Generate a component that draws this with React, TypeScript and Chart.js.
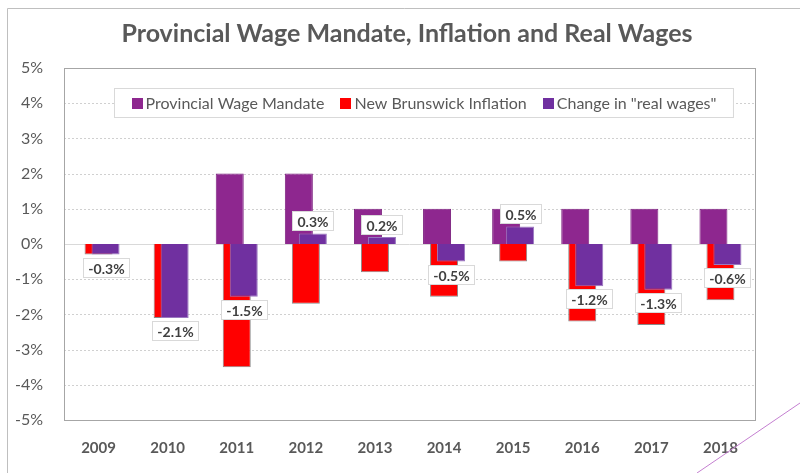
import React, { useEffect, useRef } from 'react';
import { Chart, registerables } from 'chart.js';

Chart.register(...registerables);

const years = ['2009', '2010', '2011', '2012', '2013', '2014', '2015', '2016', '2017', '2018'];
const wageMandate = [0, 0, 2, 2, 1, 1, 1, 1, 1, 1];
const inflation = [-0.3, -2.1, -3.5, -1.7, -0.8, -1.5, -0.5, -2.2, -2.3, -1.6];
const realWages = [-0.3, -2.1, -1.5, 0.3, 0.2, -0.5, 0.5, -1.2, -1.3, -0.6];
const seriesNames = ['Provincial Wage Mandate', 'New Brunswick Inflation', 'Change in "real wages"'];
const yTicks = [-5, -4, -3, -2, -1, 0, 1, 2, 3, 4, 5];
const chartTitle = 'Provincial Wage Mandate, Inflation and Real Wages';

const COLORS = ['#8E278F', '#FF0000', '#7030A0'];
const BORDERS = ['#7d2380', '#8a8a8a', '#9a78c0'];
const FONT = 'Lato, "Open Sans", sans-serif';
const TEXT = '#595959';

const customPlugin = {
  id: 'customDraw',
  beforeDatasetsDraw(chart: any) {
    const { ctx, chartArea: a, scales } = chart;
    const y = scales.y;
    ctx.save();
    ctx.lineWidth = 1;
    yTicks.forEach((v) => {
      const py = Math.round(y.getPixelForValue(v)) + 0.5;
      ctx.beginPath();
      if (v === 0) {
        ctx.setLineDash([]);
        ctx.strokeStyle = '#d9d9d9';
      } else {
        ctx.setLineDash([2, 2]);
        ctx.strokeStyle = '#d0d0d0';
      }
      ctx.moveTo(a.left, py);
      ctx.lineTo(a.right, py);
      ctx.stroke();
    });
    ctx.restore();
    // draw datasets so that the later ones lie on top
    for (let i = 0; i < chart.data.datasets.length; i++) {
      const meta = chart.getDatasetMeta(i);
      if (!meta.hidden) {
        ctx.save();
        meta.controller.draw();
        ctx.restore();
      }
    }
    return false;
  },
  afterDraw(chart: any) {
    const { ctx, chartArea: a } = chart;
    ctx.save();
    // plot border
    ctx.strokeStyle = '#a6a6a6';
    ctx.lineWidth = 1;
    ctx.setLineDash([]);
    ctx.strokeRect(Math.round(a.left) + 0.5, Math.round(a.top) + 0.5, Math.round(a.right - a.left), Math.round(a.bottom - a.top));

    // outer frame
    ctx.strokeStyle = '#bfbfbf';
    ctx.beginPath();
    ctx.moveTo(7.5, 480);
    ctx.lineTo(7.5, 8.5);
    ctx.lineTo(805, 8.5);
    ctx.stroke();

    // title
    ctx.fillStyle = TEXT;
    ctx.font = `bold 25px ${FONT}`;
    ctx.textAlign = 'center';
    ctx.textBaseline = 'middle';
    ctx.fillText(chartTitle, 407, 34);

    // legend
    ctx.font = `16px ${FONT}`;
    const sq = 11;
    const gapSq = 3;
    const gapItem = 16;
    const widths = seriesNames.map((n) => ctx.measureText(n).width);
    const content = widths.reduce((s, w) => s + sq + gapSq + w, 0) + gapItem * (seriesNames.length - 1);
    const padX = 17;
    const boxW = content + padX * 2;
    const boxCx = 423.5;
    const boxL = Math.round(boxCx - boxW / 2) + 0.5;
    const boxT = 88.5;
    const boxH = 29;
    ctx.fillStyle = '#ffffff';
    ctx.fillRect(boxL, boxT, boxW, boxH);
    ctx.strokeStyle = '#d9d9d9';
    ctx.strokeRect(boxL, boxT, boxW, boxH);
    let x = boxL + padX;
    const cy = boxT + boxH / 2;
    ctx.textAlign = 'left';
    ctx.textBaseline = 'middle';
    seriesNames.forEach((n, i) => {
      ctx.fillStyle = COLORS[i];
      ctx.fillRect(Math.round(x), Math.round(cy - sq / 2), sq, sq);
      x += sq + gapSq;
      ctx.fillStyle = TEXT;
      ctx.fillText(n, x, cy + 1);
      x += widths[i] + gapItem;
    });

    // data labels on real-wage bars
    const meta = chart.getDatasetMeta(2);
    ctx.font = `bold 14px ${FONT}`;
    ctx.textAlign = 'center';
    ctx.textBaseline = 'middle';
    meta.data.forEach((bar: any, i: number) => {
      const v = realWages[i];
      const label = `${v.toFixed(1)}%`;
      const tw = ctx.measureText(label).width;
      const w = Math.round(tw + 10);
      const h = 19;
      const bx = Math.round(bar.x - w / 2) + 0.5;
      const by = v < 0 ? Math.round(bar.y + 3) + 0.5 : Math.round(bar.y - 3 - h) + 0.5;
      ctx.fillStyle = '#ffffff';
      ctx.fillRect(bx, by, w, h);
      ctx.strokeStyle = '#d9d9d9';
      ctx.strokeRect(bx, by, w, h);
      ctx.fillStyle = '#404040';
      ctx.fillText(label, bx + w / 2, by + h / 2 + 1);
    });

    // decorative diagonal line
    ctx.strokeStyle = '#c47fd0';
    ctx.lineWidth = 1;
    ctx.beginPath();
    ctx.moveTo(697, 473);
    ctx.lineTo(800, 403);
    ctx.stroke();
    ctx.restore();
  },
};

export default function App() {
  const canvasRef = useRef<HTMLCanvasElement | null>(null);

  useEffect(() => {
    document.body.style.margin = '0';
    const canvas = canvasRef.current;
    if (!canvas) return;
    const data = [wageMandate, inflation, realWages];
    const chart = new Chart(canvas, {
      type: 'bar',
      data: {
        labels: years,
        datasets: data.map((d, i) => ({
          label: seriesNames[i],
          data: d,
          backgroundColor: COLORS[i],
          borderColor: BORDERS[i],
          borderWidth: 1,
          categoryPercentage: 0.304,
          barPercentage: 4,
        })),
      },
      options: {
        responsive: true,
        maintainAspectRatio: false,
        animation: false,
        layout: { padding: { left: 0, right: 45, top: 68, bottom: 0 } },
        plugins: {
          legend: { display: false },
          title: { display: false },
          tooltip: { enabled: false },
        },
        scales: {
          x: {
            grid: { display: false },
            border: { display: false },
            ticks: {
              color: TEXT,
              font: { family: FONT, size: 15, weight: 'bold' },
              padding: 11,
            },
            afterFit: (scale: any) => {
              scale.height = 53;
            },
          },
          y: {
            min: -5,
            max: 5,
            grid: { display: false },
            border: { display: false },
            ticks: {
              stepSize: 1,
              color: TEXT,
              font: { family: FONT, size: 16 },
              padding: 13,
              callback: (v: any) => `${v}%`,
            },
            afterFit: (scale: any) => {
              scale.width = 64;
            },
          },
        },
      },
      plugins: [customPlugin],
    });
    return () => chart.destroy();
  }, []);

  return (
    <div style={{ position: 'absolute', left: 0, top: 0, width: 800, height: 473 }}>
      <canvas ref={canvasRef} />
    </div>
  );
}
